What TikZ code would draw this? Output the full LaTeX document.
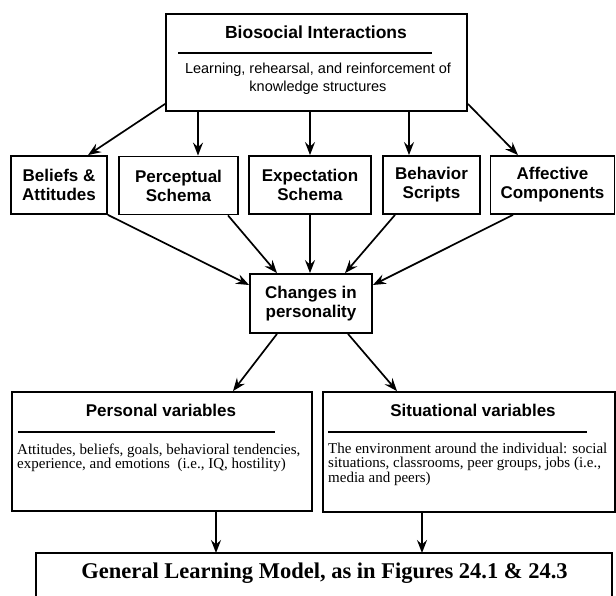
\documentclass[tikz,border=0pt]{standalone}
\usepackage{fontspec}
\setmainfont{Liberation Serif}
\setsansfont{Liberation Sans}
\usetikzlibrary{arrows.meta}

\begin{document}
\begin{tikzpicture}[x=1pt,y=-1pt,
  box/.style={draw, line width=1.8pt, rectangle, inner sep=0pt},
  conn/.style={line width=1.7pt, -{Stealth[length=13pt,width=10pt,inset=4.5pt]}},
  rulel/.style={line width=1.6pt},
  headtxt/.style={font=\fontsize{17}{19}\selectfont\sffamily\bfseries, align=center, inner sep=0pt},
  subtxt/.style={font=\fontsize{14.5}{18}\selectfont\sffamily, align=center, inner sep=0pt},
  bodytxt/.style={font=\fontsize{15}{14.5}\selectfont\rmfamily, align=left, inner sep=0pt},
  bigtxt/.style={font=\fontsize{22.5}{26}\selectfont\rmfamily\bfseries, inner sep=0pt}
]
\useasboundingbox (0,0) rectangle (616,596);

% top box
\node[box, minimum width=301pt, minimum height=97pt] (top) at (316.5,62.5) {};
\node[font=\fontsize{17.5}{20}\selectfont\sffamily\bfseries, inner sep=0pt] (toptitle) at (316,32) {Biosocial Interactions};
\draw[rulel] (178,53) -- (432,53);
\node[subtxt] (topsub) at (318,79) {Learning, rehearsal, and reinforcement of\\knowledge structures};

% second row
\node[box, minimum width=96pt, minimum height=58pt, headtxt] (beliefs) at (59,185) {Beliefs \&\\Attitudes};
\node[box, minimum width=119pt, minimum height=58pt, headtxt] (percept) at (178.5,185.5) {Perceptual\\Schema};
\node[box, minimum width=122pt, minimum height=58pt, headtxt] (expect) at (310,185) {Expectation\\Schema};
\node[box, minimum width=97pt, minimum height=58pt, headtxt] (behav) at (431.5,185) {Behavior\\Scripts};
\node[box, minimum width=124pt, minimum height=58pt, headtxt] (affect) at (552.5,185) {Affective\\Components};

% middle
\node[box, minimum width=122pt, minimum height=59pt, headtxt] (changes) at (311,303.5) {Changes in\\personality};

% variables boxes (base anchor of a multi-line node is its last line)
\node[box, minimum width=300pt, minimum height=119pt] (personal) at (162,451.5) {};
\node[headtxt] (perstitle) at (161,410) {Personal variables};
\draw[rulel] (18,432) -- (275,432);
\node[bodytxt, anchor=base west] (persbody) at (17,468.5) {Attitudes, beliefs, goals, behavioral tendencies,\\experience, and emotions\ \ (i.e., IQ, hostility)};

\node[box, minimum width=292pt, minimum height=120pt] (situational) at (469,452) {};
\node[headtxt] (sittitle) at (473,410) {Situational variables};
\draw[rulel] (328,432) -- (587,432);
\node[bodytxt, anchor=base west] (sitbody) at (328,482) {The environment around the individual: social\\situations, classrooms, peer groups, jobs (i.e.,\\media and peers)};

% bottom open box
\coordinate (glmtop) at (324,553);
\draw[line width=1.8pt] (36,597) -- (36,553) -- (612,553) -- (612,597);
\node[bigtxt] (glm) at (324.5,573) {General Learning Model, as in Figures 24.1 \& 24.3};

% connectors: top box to second row
\draw[conn] ([yshift=8pt]top.south west) -- ([xshift=29pt]beliefs.north);
\draw[conn] ([xshift=19.5pt]percept.north |- top.south) -- ([xshift=19.5pt]percept.north);
\draw[conn] (expect.north |- top.south) -- (expect.north);
\draw[conn] ([xshift=-22.5pt]behav.north |- top.south) -- ([xshift=-22.5pt]behav.north);
\draw[conn] ([yshift=8pt]top.south east) -- ([xshift=-34.5pt]affect.north);

% second row into changes
\draw[conn] (beliefs.south east) -- ([yshift=18.5pt]changes.west);
\draw[conn] ([xshift=49.5pt]percept.south) -- ([xshift=-34pt]changes.north);
\draw[conn] (expect.south) -- (expect.south |- changes.north);
\draw[conn] ([xshift=-36.5pt]behav.south) -- ([xshift=34pt]changes.north);
\draw[conn] ([xshift=-39.5pt]affect.south) -- ([yshift=18.5pt]changes.east);

% changes to variables
\draw[conn] ([xshift=-34pt]changes.south) -- ([xshift=71pt]personal.north);
\draw[conn] ([xshift=37pt]changes.south) -- ([xshift=-72pt]situational.north);

% variables to general learning model
\draw[conn] ([xshift=54pt]personal.south) -- ([xshift=54pt]personal.south |- glmtop);
\draw[conn] ([xshift=-47pt]situational.south) -- ([xshift=-47pt]situational.south |- glmtop);
\end{tikzpicture}
\end{document}
